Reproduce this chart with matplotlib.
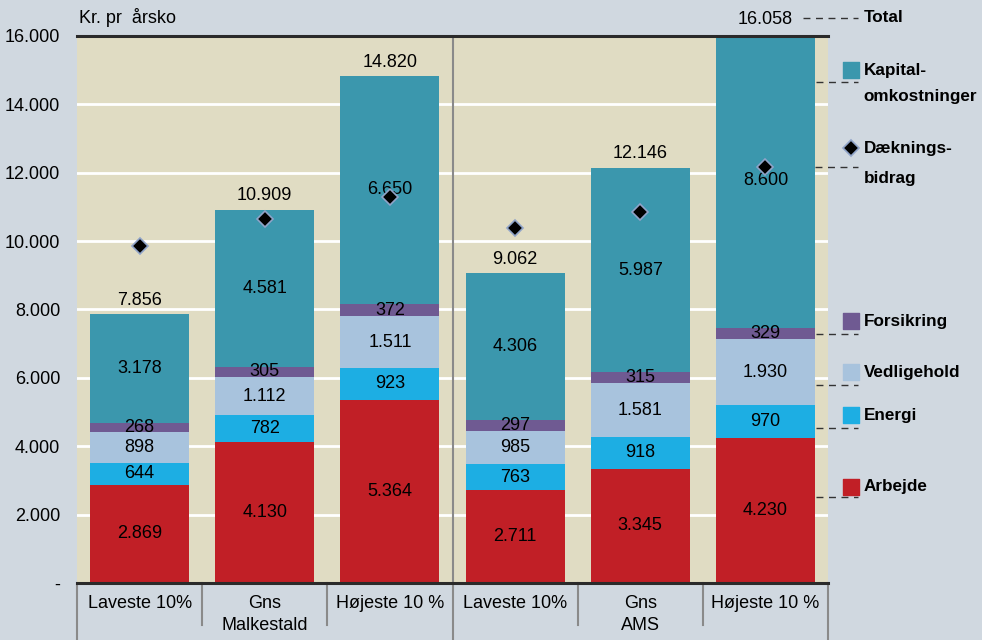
import numpy as np
import matplotlib.pyplot as plt
from matplotlib import font_manager

names = {f.name for f in font_manager.fontManager.ttflist}
narrow = 'Liberation Sans Narrow' if 'Liberation Sans Narrow' in names else 'Liberation Sans'
plt.rcParams['font.family'] = [narrow, 'DejaVu Sans']

# data (kr. pr årsko)
groups = ['Laveste 10%', 'Gns\nMalkestald', 'Højeste 10 %', 'Laveste 10%', 'Gns\nAMS', 'Højeste 10 %']
arbejde = [2869, 4130, 5364, 2711, 3345, 4230]
energi = [644, 782, 923, 763, 918, 970]
vedligehold = [898, 1112, 1511, 985, 1581, 1930]
forsikring = [268, 305, 372, 297, 315, 329]
kapital = [3178, 4581, 6650, 4306, 5987, 8600]
total = [7856, 10909, 14820, 9062, 12146, 16058]
daekningsbidrag = [9850, 10650, 11290, 10380, 10850, 12170]

colors = ['#c11f26', '#1daee3', '#a8c3dd', '#6f5a92', '#3b97ad']
series = [arbejde, energi, vedligehold, forsikring, kapital]

def fmt(v):
    return f'{v:,}'.replace(',', '.')

fig = plt.figure(figsize=(9.82, 6.40), dpi=100, facecolor='#d0d8e0')
ax = fig.add_axes([0.0784, 0.0891, 0.7648, 0.8547])
ax.set_facecolor('#e0dcc3')

x = np.arange(len(groups))
bottom = np.zeros(len(groups))
for vals, col in zip(series, colors):
    vals = np.array(vals)
    ax.bar(x, vals, 0.79, bottom=bottom, color=col, zorder=3)
    for xi, b, v in zip(x, bottom, vals):
        ax.text(xi, b + v / 2, fmt(int(v)), ha='center', va='center', fontsize=13, zorder=5)
    bottom += vals

for xi, t in zip(x, total):
    ax.annotate(fmt(t), (xi, t), xytext=(0, 4), textcoords='offset points',
                ha='center', va='bottom', fontsize=13, annotation_clip=False)

diamond = dict(marker='D', ms=8.5, mfc='black', mec='#8fa3c8', mew=1.2)
ax.plot(x, daekningsbidrag, ls='none', zorder=6, **diamond)

ax.set_xlim(-0.5, 5.5)
ax.set_ylim(0, 16000)
ax.set_yticks(np.arange(0, 16001, 2000))
ax.set_yticklabels(['-'] + [fmt(v) for v in range(2000, 16001, 2000)], fontsize=13)
ax.tick_params(axis='y', length=0, pad=12)
ax.set_xticks([])
ax.grid(axis='y', color='white', lw=2, zorder=1)
for s in ['left', 'right']:
    ax.spines[s].set_visible(False)
for s in ['top', 'bottom']:
    ax.spines[s].set_color('#2a2a2a')
    ax.spines[s].set_linewidth(2.2)
    ax.spines[s].set_zorder(7)

# group separator inside the plot
ax.plot([2.5, 2.5], [0, 16000], color='#8a8a8a', lw=1.5, zorder=4)

# category labels and separators below the axis
tr = ax.get_xaxis_transform()
for xi, g in zip(x, groups):
    ax.text(xi, -0.022, g, transform=tr, ha='center', va='top', fontsize=13, linespacing=1.4)
for xs in [-0.5, 2.5, 5.5]:
    ax.plot([xs, xs], [0, -0.11], transform=tr, color='#8a8a8a', lw=1.5, clip_on=False)
for xs in [0.5, 1.5, 3.5, 4.5]:
    ax.plot([xs, xs], [0, -0.077], transform=tr, color='#8a8a8a', lw=1.5, clip_on=False)

ax.text(-0.48, 16250, 'Kr. pr  årsko', ha='left', va='bottom', fontsize=13)

# legend with leader lines from the last bar
lx0, lx1 = 5.4, 5.74
tx = 5.785
dash = dict(color='#333333', lw=1, ls=(0, (5, 4)), clip_on=False)
bold = dict(ha='left', va='center', fontsize=12.3, fontweight='bold')
legend = [(['Arbejde'], colors[0], 2810, 2520),
          (['Energi'], colors[1], 4910, 4530),
          (['Vedligehold'], colors[2], 6170, 5790),
          (['Forsikring'], colors[3], 7660, 7280),
          (['Kapital-', 'omkostninger'], colors[4], 15000, 14650)]
for lines, col, ly, lead in legend:
    ax.scatter([5.68], [ly], marker='s', s=140, color=col, clip_on=False, zorder=6)
    for i, line in enumerate(lines):
        ax.text(tx, ly - i * 760, line, **bold)
    ax.plot([lx0, lx1], [lead, lead], **dash)

ax.plot([5.3, lx1], [16530, 16530], **dash)
ax.text(tx, 16530, 'Total', **bold)

ax.plot([5.0, lx1], [daekningsbidrag[-1], daekningsbidrag[-1]], **dash)
ax.plot([5.68], [12720], clip_on=False, **diamond)
ax.text(tx, 12720, 'Dæknings-', **bold)
ax.text(tx, 12720 - 880, 'bidrag', **bold)

fig.savefig('out.png', dpi=100, facecolor=fig.get_facecolor())
